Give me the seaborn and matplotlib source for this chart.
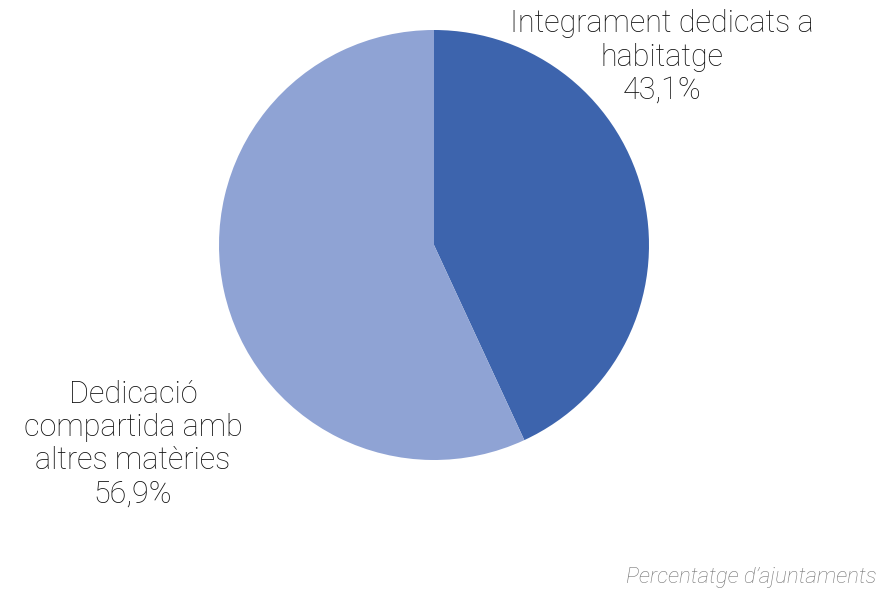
import matplotlib
matplotlib.use("Agg")
import matplotlib.pyplot as plt
import seaborn as sns

categories = ["Integrament dedicats a\nhabitatge", "Dedicació\ncompartida amb\naltres matèries"]
values = [43.1, 56.9]
value_labels = ["43,1%", "56,9%"]
colors = ["#3D64AD", "#8FA3D4"]
source = "Percentatge d\u2019ajuntaments"

sns.set_theme(style="white")
plt.rcParams['font.family'] = ['Roboto', 'DejaVu Sans']

fig = plt.figure(figsize=(8.92, 5.90), dpi=100)
ax = fig.add_axes([434/892 - 215/892, 1 - 245/590 - 215/590, 430/892, 430/590])
ax.pie(values, colors=colors, startangle=90, counterclock=False,
       wedgeprops=dict(linewidth=0))
ax.set_xlim(-1, 1)
ax.set_ylim(-1, 1)
ax.set_aspect('equal')
ax.axis('off')

fig.text(662/892, 1 - 57/590, categories[0] + "\n" + value_labels[0], ha='center', va='center',
         fontsize=22, fontweight='light', color='#111111', linespacing=1.18)
fig.text(133/892, 1 - 444/590, categories[1] + "\n" + value_labels[1], ha='center', va='center',
         fontsize=22, fontweight='light', color='#111111', linespacing=1.18)
fig.text(876/892, 1 - 578/590, source, ha='right', va='center', fontsize=16,
         style='italic', fontweight='light', color='#777777')

fig.savefig("out.png", dpi=100)
